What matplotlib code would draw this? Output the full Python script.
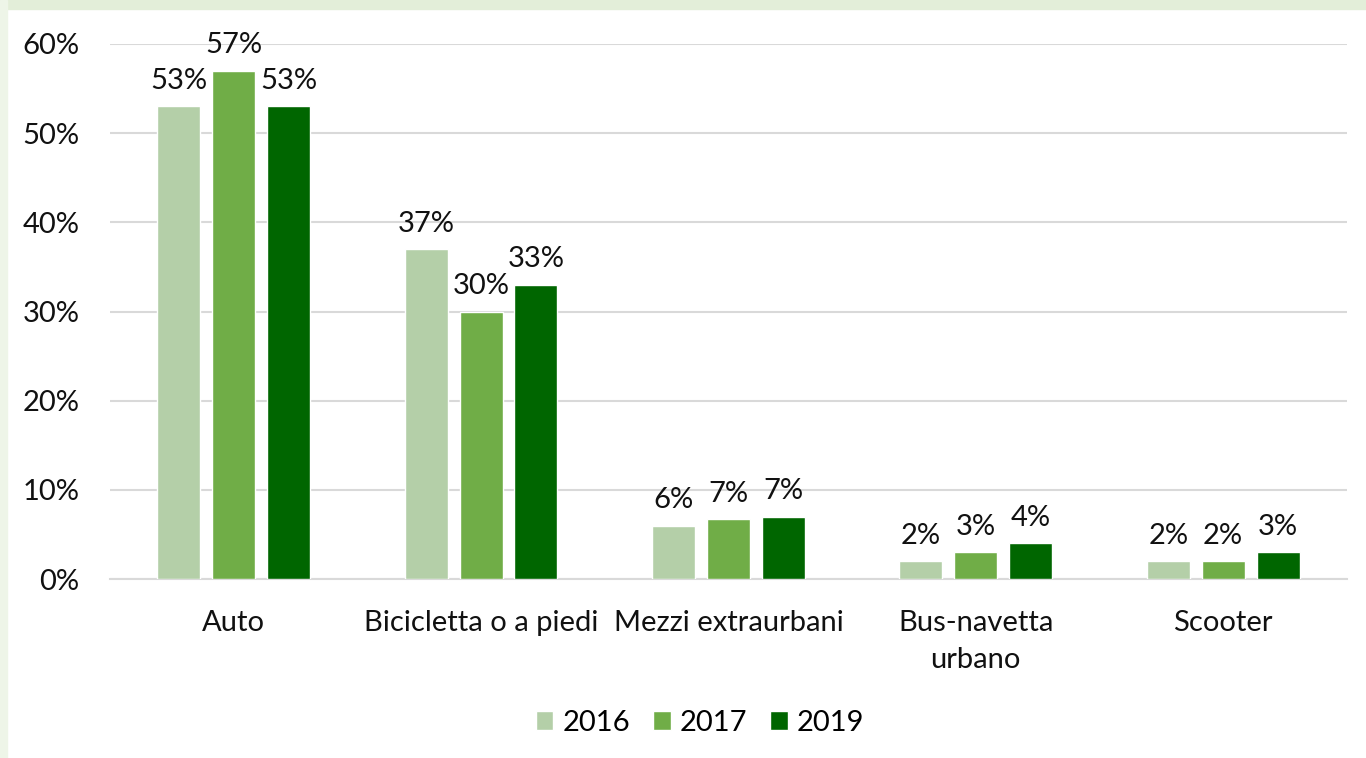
import numpy as np
import matplotlib.pyplot as plt
from matplotlib.patches import Rectangle
from matplotlib.ticker import FuncFormatter

categories = ["Auto", "Bicicletta o a piedi", "Mezzi extraurbani", "Bus-navetta\nurbano", "Scooter"]
years = ["2016", "2017", "2019"]
v2016 = [53, 37, 6.0, 2, 2]
v2017 = [57, 30, 6.7, 3, 2]
v2019 = [53, 33, 7.0, 4, 3]
colors = ["#b4cfa8", "#70ad47", "#006600"]

plt.rcParams['font.family'] = ['Lato', 'DejaVu Sans']

fig = plt.figure(figsize=(13.66, 7.58), dpi=100)
fig.patch.set_facecolor("white")
# light green frame strips at top and left
fig.patches.append(Rectangle((0, 0.988), 1, 0.012, transform=fig.transFigure, color="#e3eed9", zorder=0))
fig.patches.append(Rectangle((0, 0), 0.005, 1, transform=fig.transFigure, color="#eef5e8", zorder=0))

ax = fig.add_axes([0.0805, 0.236, 0.9055, 0.706])
x = np.arange(len(categories))
step = 0.222
width = 0.174
series = [v2016, v2017, v2019]
for i, (vals, col, yr) in enumerate(zip(series, colors, years)):
    pos = x + (i - 1) * step
    bars = ax.bar(pos, np.array(vals) / 100, width, color=col, edgecolor="white", linewidth=1, label=yr, zorder=3)
    for b, v in zip(bars, vals):
        ax.text(b.get_x() + b.get_width() / 2, v / 100 + 0.014, f"{round(v):.0f}%",
                ha="center", va="bottom", fontsize=21, color="#111111", zorder=4)

ax.set_xlim(-0.5, 4.5)
ax.set_ylim(0, 0.6)
ax.set_yticks(np.arange(0, 0.61, 0.1))
ax.yaxis.set_major_formatter(FuncFormatter(lambda v, p: f"{v * 100:.0f}%"))
ax.set_xticks(x)
ax.set_xticklabels(categories, linespacing=1.55)
ax.tick_params(axis="both", length=0, labelsize=21, colors="#111111")
ax.tick_params(axis="y", pad=22)
ax.tick_params(axis="x", pad=22)
ax.grid(axis="y", color="#d9d9d9", linewidth=1.5, zorder=0)
for s in ["top", "right", "left"]:
    ax.spines[s].set_visible(False)
ax.spines["bottom"].set_color("#d9d9d9")
ax.spines["bottom"].set_linewidth(1.5)

ax.legend(loc="center", bbox_to_anchor=(0.477, -0.268), ncol=3, frameon=False, fontsize=21,
          handlelength=0.6, handleheight=0.6, handletextpad=0.3, columnspacing=0.8)

fig.savefig("out.png", dpi=100)
